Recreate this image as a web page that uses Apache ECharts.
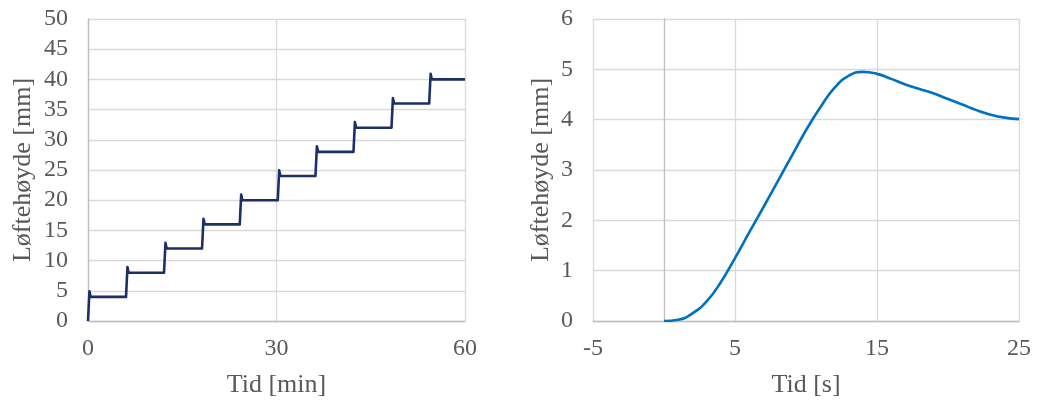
<!DOCTYPE html>
<html>
<head>
<meta charset="utf-8">
<script src="https://cdn.jsdelivr.net/npm/echarts@6/dist/echarts.min.js"></script>
<style>
  html, body { margin: 0; padding: 0; background: #fff; }
  #chart { width: 1037px; height: 403px; }
</style>
</head>
<body>
<div id="chart"></div>
<script>
// Stepwise lifting over one hour: [time in min, lift height in mm]
const stepSeries = [
  [0, 0], [0.23, 4.93], [0.42, 4], [6.05, 4],
  [6.28, 8.93], [6.47, 8], [12.1, 8],
  [12.33, 12.93], [12.52, 12], [18.15, 12],
  [18.38, 16.93], [18.57, 16], [24.15, 16],
  [24.38, 20.93], [24.57, 20], [30.2, 20],
  [30.43, 24.93], [30.62, 24], [36.2, 24],
  [36.43, 28.93], [36.62, 28], [42.25, 28],
  [42.48, 32.93], [42.67, 32], [48.3, 32],
  [48.53, 36.93], [48.72, 36], [54.3, 36],
  [54.53, 40.93], [54.72, 40], [60, 40]
];

// One lifting step in detail: time in s and lift height in mm
const stepTime = [0, 1, 2, 3, 4, 5, 6, 7, 8, 9, 10, 11, 12, 13, 14, 15, 16, 17, 18, 19, 20, 21, 22, 23, 24, 25];
const stepHeight = [0, 0.025, 0.15, 0.39, 0.77, 1.25, 1.76, 2.26, 2.77, 3.28, 3.79, 4.24, 4.63, 4.87, 4.95, 4.91, 4.81, 4.7, 4.61, 4.52, 4.41, 4.3, 4.19, 4.1, 4.04, 4.01];

const yTitle = 'Løftehøyde [mm]';
const xTitleLeft = 'Tid [min]';
const xTitleRight = 'Tid [s]';

const FONT = 'Liberation Serif';
const TEXT = '#595959';
const GRID = '#d9d9d9';
const AXIS = '#bfbfbf';

function valueAxis(extra) {
  return Object.assign({
    type: 'value',
    axisTick: { show: false },
    axisLine: { show: true, lineStyle: { color: AXIS, width: 1.3 } },
    splitLine: { show: true, showMinLine: true, showMaxLine: true, lineStyle: { color: GRID, width: 1.3 } },
    axisLabel: { color: TEXT, fontFamily: FONT, fontSize: 24 },
    nameLocation: 'middle',
    nameMoveOverlap: false,
    nameTextStyle: { color: TEXT, fontFamily: FONT, fontSize: 26 }
  }, extra);
}

const chart = echarts.init(document.getElementById('chart'), null, { renderer: 'canvas' });
chart.setOption({
  animation: false,
  backgroundColor: '#ffffff',
  grid: [
    { left: 88, right: 572, top: 19, bottom: 81 },
    { left: 593, right: 18, top: 19, bottom: 81 }
  ],
  xAxis: [
    valueAxis({ gridIndex: 0, min: 0, max: 60, interval: 30, name: xTitleLeft, nameGap: 51,
      axisLabel: { color: TEXT, fontFamily: FONT, fontSize: 24, margin: 16 } }),
    valueAxis({ gridIndex: 1, min: -5, max: 25, interval: 10, name: xTitleRight, nameGap: 51,
      axisLabel: { color: TEXT, fontFamily: FONT, fontSize: 24, margin: 16 } })
  ],
  yAxis: [
    valueAxis({ gridIndex: 0, min: 0, max: 50, interval: 5, name: yTitle, nameGap: 52,
      axisLabel: { color: TEXT, fontFamily: FONT, fontSize: 24, margin: 20 } }),
    valueAxis({ gridIndex: 1, min: 0, max: 6, interval: 1, name: yTitle, nameGap: 39,
      axisLine: { show: true, onZero: true, lineStyle: { color: AXIS, width: 1.3 } },
      axisLabel: { color: TEXT, fontFamily: FONT, fontSize: 24, margin: 20 } })
  ],
  series: [
    {
      type: 'line', xAxisIndex: 0, yAxisIndex: 0,
      data: stepSeries,
      showSymbol: false,
      lineStyle: { color: '#1b2f68', width: 2.6, join: 'round' }
    },
    {
      type: 'line', xAxisIndex: 1, yAxisIndex: 1,
      data: stepTime.map((t, i) => [t, stepHeight[i]]),
      showSymbol: false,
      smooth: 0.5,
      lineStyle: { color: '#0070c0', width: 2.6 }
    }
  ]
});
</script>
</body>
</html>
